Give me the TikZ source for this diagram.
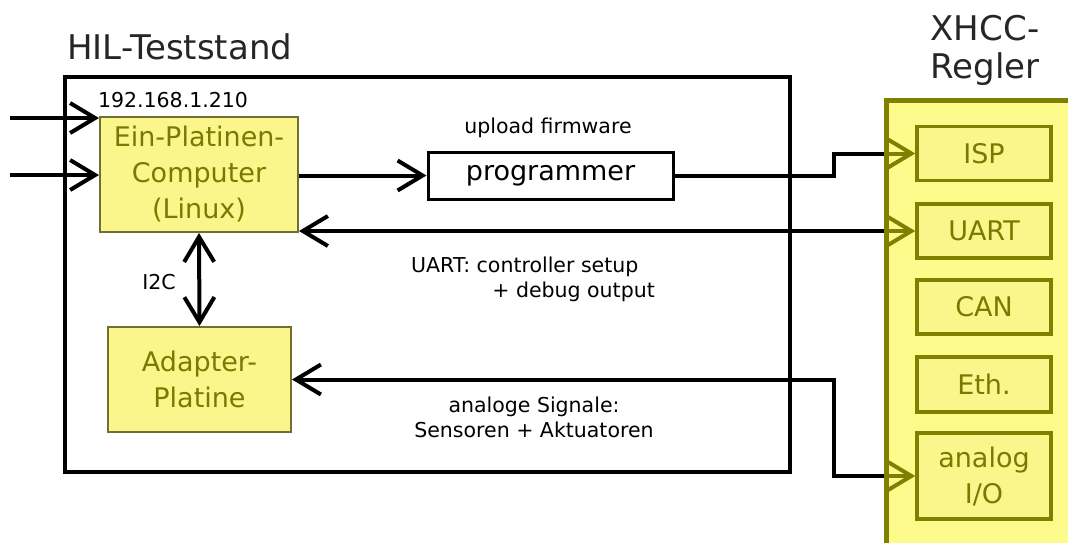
\documentclass[tikz,border=0pt]{standalone}
\usepackage{fontspec}
\setmainfont{DejaVu Sans}
\usetikzlibrary{arrows.meta}
\definecolor{boxyellow}{RGB}{250,246,140}
\definecolor{olivec}{RGB}{128,128,0}
\definecolor{olivetext}{RGB}{122,122,0}
\definecolor{boxedge}{RGB}{112,112,50}
\pgfdeclarelayer{bg}
\pgfdeclarelayer{wires}
\pgfdeclarelayer{tint}
\pgfsetlayers{bg,wires,tint,main}
\begin{document}
\begin{tikzpicture}[x=1pt,y=-1pt,
  >={Straight Barb[length=25pt,width=30pt]},
  conn/.style={line width=4pt, black},
  ybox/.style={draw=boxedge, line width=2pt, fill=boxyellow, text=olivetext,
    font=\fontsize{27}{36}\selectfont, align=center, inner sep=0pt},
  ibox/.style={draw=olivec, line width=3.5pt, fill=boxyellow, text=olivetext,
    font=\fontsize{27}{36}\selectfont, align=center, inner sep=0pt,
    minimum width=134pt, minimum height=54pt},
  lbl/.style={font=\fontsize{20.5}{25}\selectfont, inner sep=0pt, align=center},
  ttl/.style={font=\fontsize{34}{38}\selectfont, inner sep=0pt, align=center, text=black!85}]
\useasboundingbox (0,0) rectangle (1068,542);
\clip (0,0) rectangle (1068,542);
% frames
\node[draw, line width=4pt, minimum width=725pt, minimum height=395pt, inner sep=0pt] (hil) at (427.5,274.5) {};
\node[ttl, anchor=west] (hiltitle) at (67,47) {HIL-Teststand};
\node[ttl] (xhcctitle) at (985,50) {XHCC-\\Regler};
\begin{pgfonlayer}{bg}
\fill[boxyellow] (886,100) rectangle (1090,560);
\end{pgfonlayer}
\node[draw=olivec, line width=3pt, minimum width=204pt, minimum height=460pt, inner sep=0pt, anchor=north west] (xhcc) at (886,100) {};
% boxes
\node[ybox, minimum width=198pt, minimum height=115pt] (comp) at (199,174.5) {Ein-Platinen-\\Computer\\(Linux)};
\node[ybox, minimum width=183pt, minimum height=105pt] (adapt) at (199.5,379.5) {Adapter-\\Platine};
\node[draw, line width=3pt, fill=white, minimum width=245pt, minimum height=47pt, inner sep=0pt,
  font=\fontsize{27}{36}\selectfont] (prog) at (550.5,175.5) {programmer};
\node[ibox] (isp) at (984,153.5) {ISP};
\node[ibox] (uart) at (984,231) {UART};
\node[ibox] (can) at (984,307) {CAN};
\node[ibox, minimum height=55pt] (eth) at (984,384.5) {Eth.};
\node[ibox, minimum height=86pt] (analog) at (984,476) {analog\\I/O};
% labels
\node[lbl] (ip) at (173,100) {192.168.1.210};
\node[lbl] (upl) at (548,128) {upload firmware};
\node[lbl, anchor=west] (uartl1) at (411,267) {UART: controller setup};
\node[lbl, anchor=east] (uartl2) at (655,292) {+ debug output};
\node[lbl] (anl) at (534,417.5) {analoge Signale:\\Sensoren + Aktuatoren};
\node[lbl] (i2c) at (159,282) {I2C};
% connectors
\coordinate (in1) at (10,118);
\coordinate (in2) at (10,175);
\begin{pgfonlayer}{wires}
\draw[conn,->] (in1) -- (in1 -| comp.west);
\draw[conn,->] (in2) -- (in2 -| comp.west);
\draw[conn,->] (prog.west -| comp.east) -- (prog.west);
\draw[conn,->] (prog.east) -- ++(159,0) |- (isp.west);
\draw[conn,<->] (uart.west -| comp.east) -- (uart.west);
\draw[conn,<->] (comp.south) -- (adapt.north);
\draw[conn,<->] (adapt.east) -- ++(542,0) |- (analog.west);
\end{pgfonlayer}
\begin{pgfonlayer}{tint}
\begin{scope}[blend mode=screen]
\fill[olivec] (884,98) rectangle (1090,560);
\end{scope}
\end{pgfonlayer}
\end{tikzpicture}
\end{document}
